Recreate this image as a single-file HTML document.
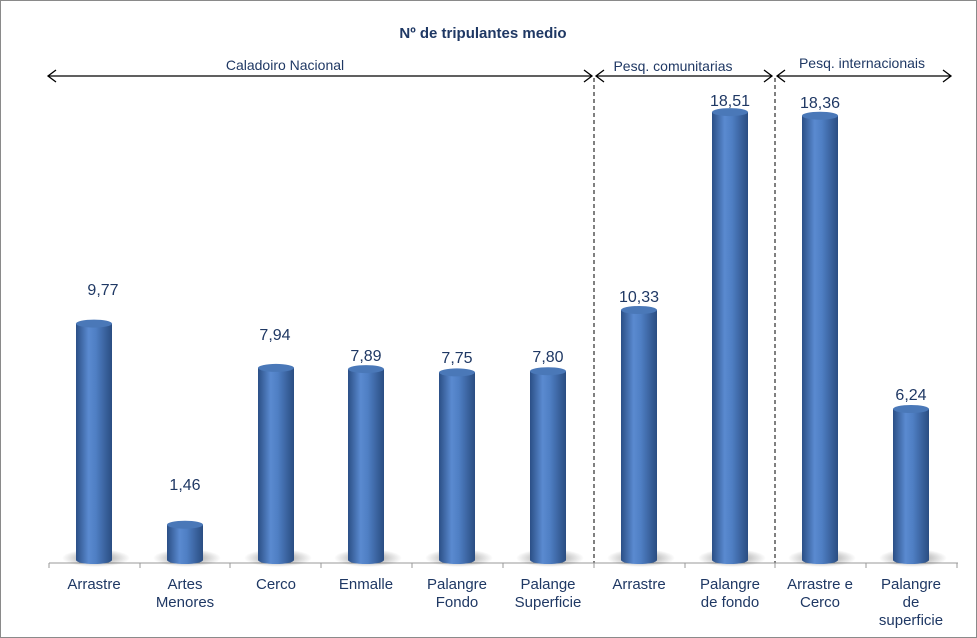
<!DOCTYPE html>
<html><head><meta charset="utf-8"><style>
html,body{margin:0;padding:0;background:#fff}
svg{display:block;font-family:"Liberation Sans",Arial,sans-serif}
</style></head><body>
<svg width="977" height="638" viewBox="0 0 977 638">
<defs>
<linearGradient id="cyl" x1="0" x2="1" y1="0" y2="0">
<stop offset="0" stop-color="#2b4f86"/>
<stop offset="0.35" stop-color="#5a8ad0"/>
<stop offset="0.55" stop-color="#4f7fc4"/>
<stop offset="1" stop-color="#2a4d82"/>
</linearGradient>
<radialGradient id="sh" cx="0.5" cy="0.5" r="0.5">
<stop offset="0" stop-color="#000" stop-opacity="0.45"/>
<stop offset="1" stop-color="#000" stop-opacity="0"/>
</radialGradient>
<g id="shadow"><ellipse cx="2" cy="-2" rx="34" ry="9" fill="url(#sh)"/></g>
</defs>
<rect x="0.5" y="0.5" width="976" height="637" fill="#fff" stroke="#8a8a8a"/>
<text x="483" y="38" text-anchor="middle" font-size="15" font-weight="bold" fill="#1f3864">Nº de tripulantes medio</text>
<g stroke="#000" stroke-width="1.3" fill="none">
<line x1="48" y1="76" x2="592" y2="76"/><polyline points="56,70 48,76 56,82"/><polyline points="584,70 592,76 584,82"/>
<line x1="596" y1="76" x2="772" y2="76"/><polyline points="604,70 596,76 604,82"/><polyline points="764,70 772,76 764,82"/>
<line x1="777" y1="76" x2="951" y2="76"/><polyline points="785,70 777,76 785,82"/><polyline points="943,70 951,76 943,82"/>
</g>
<g stroke="#000" stroke-width="1" stroke-dasharray="4,3">
<line x1="594" y1="78" x2="594" y2="563"/>
<line x1="775" y1="78" x2="775" y2="563"/>
</g>
<g font-size="14" fill="#1f3864" text-anchor="middle">
<text x="285" y="70">Caladoiro Nacional</text>
<text x="673" y="71">Pesq. comunitarias</text>
<text x="862" y="68">Pesq. internacionais</text>
</g>
<line x1="49" y1="563" x2="958" y2="563" stroke="#999" stroke-width="1"/>
<g stroke="#999"><line x1="49" y1="563" x2="49" y2="568"/><line x1="140" y1="563" x2="140" y2="568"/><line x1="230" y1="563" x2="230" y2="568"/><line x1="321" y1="563" x2="321" y2="568"/><line x1="412" y1="563" x2="412" y2="568"/><line x1="503" y1="563" x2="503" y2="568"/><line x1="594" y1="563" x2="594" y2="568"/><line x1="685" y1="563" x2="685" y2="568"/><line x1="775" y1="563" x2="775" y2="568"/><line x1="866" y1="563" x2="866" y2="568"/><line x1="957" y1="563" x2="957" y2="568"/></g>

<g>
<use href="#shadow" x="94" y="560"/><path d="M76,323.6 L76,560 A18,4 0 0 0 112,560 L112,323.6 Z" fill="url(#cyl)"/><ellipse cx="94" cy="323.6" rx="18" ry="4" fill="#4a78b8"/>
<use href="#shadow" x="185" y="560"/><path d="M167,524.7 L167,560 A18,4 0 0 0 203,560 L203,524.7 Z" fill="url(#cyl)"/><ellipse cx="185" cy="524.7" rx="18" ry="4" fill="#4a78b8"/>
<use href="#shadow" x="276" y="560"/><path d="M258,367.9 L258,560 A18,4 0 0 0 294,560 L294,367.9 Z" fill="url(#cyl)"/><ellipse cx="276" cy="367.9" rx="18" ry="4" fill="#4a78b8"/>
<use href="#shadow" x="366" y="560"/><path d="M348,369.1 L348,560 A18,4 0 0 0 384,560 L384,369.1 Z" fill="url(#cyl)"/><ellipse cx="366" cy="369.1" rx="18" ry="4" fill="#4a78b8"/>
<use href="#shadow" x="457" y="560"/><path d="M439,372.4 L439,560 A18,4 0 0 0 475,560 L475,372.4 Z" fill="url(#cyl)"/><ellipse cx="457" cy="372.4" rx="18" ry="4" fill="#4a78b8"/>
<use href="#shadow" x="548" y="560"/><path d="M530,371.2 L530,560 A18,4 0 0 0 566,560 L566,371.2 Z" fill="url(#cyl)"/><ellipse cx="548" cy="371.2" rx="18" ry="4" fill="#4a78b8"/>
<use href="#shadow" x="639" y="560"/><path d="M621,310 L621,560 A18,4 0 0 0 657,560 L657,310 Z" fill="url(#cyl)"/><ellipse cx="639" cy="310" rx="18" ry="4" fill="#4a78b8"/>
<use href="#shadow" x="730" y="560"/><path d="M712,112.1 L712,560 A18,4 0 0 0 748,560 L748,112.1 Z" fill="url(#cyl)"/><ellipse cx="730" cy="112.1" rx="18" ry="4" fill="#4a78b8"/>
<use href="#shadow" x="820" y="560"/><path d="M802,115.7 L802,560 A18,4 0 0 0 838,560 L838,115.7 Z" fill="url(#cyl)"/><ellipse cx="820" cy="115.7" rx="18" ry="4" fill="#4a78b8"/>
<use href="#shadow" x="911" y="560"/><path d="M893,409 L893,560 A18,4 0 0 0 929,560 L929,409 Z" fill="url(#cyl)"/><ellipse cx="911" cy="409" rx="18" ry="4" fill="#4a78b8"/>
</g>

<g font-size="15" fill="#1f3864" text-anchor="middle">
<text x="94" y="589">Arrastre</text>
<text x="185" y="589">Artes</text><text x="185" y="607">Menores</text>
<text x="276" y="589">Cerco</text>
<text x="366" y="589">Enmalle</text>
<text x="457" y="589">Palangre</text><text x="457" y="607">Fondo</text>
<text x="548" y="589">Palange</text><text x="548" y="607">Superficie</text>
<text x="639" y="589">Arrastre</text>
<text x="730" y="589">Palangre</text><text x="730" y="607">de fondo</text>
<text x="820" y="589">Arrastre e</text><text x="820" y="607">Cerco</text>
<text x="911" y="589">Palangre</text><text x="911" y="607">de</text><text x="911" y="625">superficie</text>
</g>
<g font-size="16" fill="#1f3864" text-anchor="middle">
<text x="103" y="295">9,77</text>
<text x="185" y="490">1,46</text>
<text x="275" y="340">7,94</text>
<text x="366" y="361">7,89</text>
<text x="457" y="363">7,75</text>
<text x="548" y="362">7,80</text>
<text x="639" y="302">10,33</text>
<text x="730" y="106">18,51</text>
<text x="820" y="108">18,36</text>
<text x="911" y="400">6,24</text>
</g>
</svg>
</body></html>
